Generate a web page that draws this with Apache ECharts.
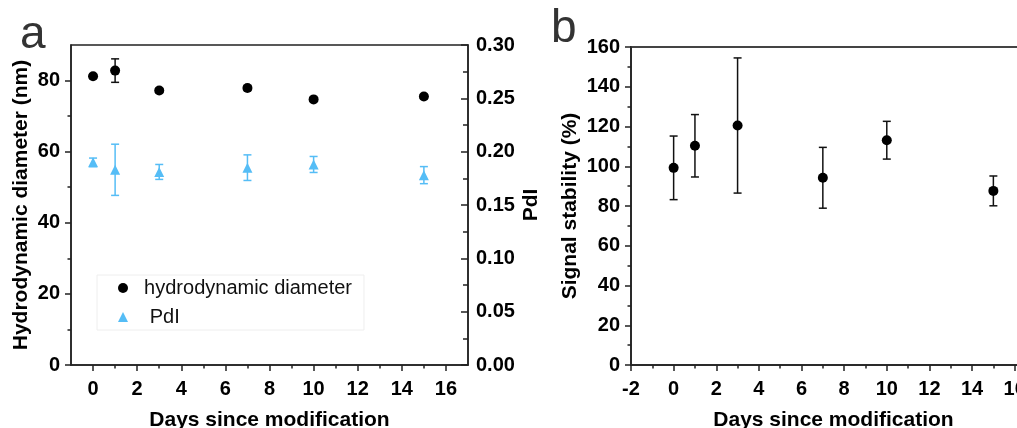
<!DOCTYPE html>
<html>
<head>
<meta charset="utf-8">
<script src="https://cdn.jsdelivr.net/npm/echarts@6/dist/echarts.min.js"></script>
<style>
  html, body { margin: 0; padding: 0; background: #fff; }
  #chart { width: 1017px; height: 428px; }
</style>
</head>
<body>
<div id="chart"></div>
<script>
// Sampling days (shared by both panels)
const days = [0, 1, 3, 7, 10, 15];

// Panel a: hydrodynamic diameter (nm) and polydispersity index
const diameter    = [81.2, 82.8, 77.2, 77.9, 74.7, 75.5];
const diameterErr = [0.6, 3.3, 0.6, 0.7, 0.5, 0.6];
const pdi         = [0.190, 0.183, 0.181, 0.185, 0.188, 0.178];
const pdiErr      = [0.004, 0.024, 0.007, 0.012, 0.0075, 0.008];

// Panel b: signal stability (%)
const signal    = [99.2, 110.3, 120.5, 94.2, 113.1, 87.6];
const signalErr = [16, 15.7, 34, 15.3, 9.5, 7.5];

// Tick labels
const xTicksA = [0, 2, 4, 6, 8, 10, 12, 14, 16];
const xTicksB = [-2, 0, 2, 4, 6, 8, 10, 12, 14, 16];
const yTicksDiameter = [0, 20, 40, 60, 80];
const yTicksPdi = [0, 0.05, 0.10, 0.15, 0.20, 0.25, 0.30];
const yTicksSignal = [0, 20, 40, 60, 80, 100, 120, 140, 160];

const FONT = 'Liberation Sans, Arial, sans-serif';
const AXIS_COLOR = '#222';
const BLUE = '#55bdf6';

const steps = (lo, hi, step) => {
  const out = [];
  for (let v = lo; v <= hi + 1e-9; v += step) out.push(+v.toFixed(4));
  return out;
};

const labelStyle = { color: '#000', fontFamily: FONT, fontWeight: 'bold', fontSize: 20 };
const nameStyle = { color: '#000', fontFamily: FONT, fontWeight: 'bold', fontSize: 21 };

function mainAxis(opts) {
  const { ticks, fmt, inside, margin, tickLen } = opts;
  return Object.assign({
    type: 'value',
    splitLine: { show: false },
    axisLine: { show: true, onZero: false, lineStyle: { color: AXIS_COLOR, width: 1.5 } },
    axisTick: { show: true, inside: !!inside, length: tickLen || 6, customValues: ticks,
                lineStyle: { color: AXIS_COLOR, width: 1.5 } },
    axisLabel: Object.assign({ customValues: ticks, margin: margin, formatter: fmt }, labelStyle),
    nameTextStyle: nameStyle
  }, opts.extra);
}

function minorAxis(opts) {
  const { ticks, inside } = opts;
  return Object.assign({
    type: 'value',
    splitLine: { show: false },
    axisLine: { show: false, onZero: false },
    axisLabel: { show: false },
    axisTick: { show: true, inside: !!inside, length: opts.tickLen || 3.5, customValues: ticks,
                lineStyle: { color: AXIS_COLOR, width: 1.5 } }
  }, opts.extra);
}

// Vertical error bar with caps
function errorBar(color) {
  return function (params, api) {
    const x = api.value(0), lo = api.value(1), hi = api.value(2);
    const top = api.coord([x, hi]);
    const bot = api.coord([x, lo]);
    const cw = 4;
    const st = { stroke: color, lineWidth: 1.5 };
    return {
      type: 'group',
      children: [
        { type: 'line', shape: { x1: top[0], y1: top[1], x2: bot[0], y2: bot[1] }, style: st },
        { type: 'line', shape: { x1: top[0] - cw, y1: top[1], x2: top[0] + cw, y2: top[1] }, style: st },
        { type: 'line', shape: { x1: bot[0] - cw, y1: bot[1], x2: bot[0] + cw, y2: bot[1] }, style: st }
      ]
    };
  };
}

const pts = (ys) => days.map((d, i) => [d, ys[i]]);
const bars = (ys, es) => days.map((d, i) => [d, ys[i] - es[i], ys[i] + es[i]]);

const chart = echarts.init(document.getElementById('chart'), null, { renderer: 'canvas' });

chart.setOption({
  backgroundColor: '#fff',
  animation: false,
  grid: [
    { left: 71, top: 45, width: 397, height: 320, show: true, borderColor: AXIS_COLOR, borderWidth: 1.5,
      containLabel: false, outerBoundsMode: 'none' },
    { left: 631, top: 47, right: -19, bottom: 63, show: true, borderColor: '#444', borderWidth: 2,
      containLabel: false, outerBoundsMode: 'none' }
  ],
  xAxis: [
    mainAxis({ ticks: xTicksA, margin: 14, fmt: v => String(v),
      extra: { gridIndex: 0, min: -1, max: 17, position: 'bottom', name: 'Days since modification',
               nameLocation: 'middle', nameGap: 45 } }),
    minorAxis({ ticks: steps(1, 15, 2), extra: { gridIndex: 0, min: -1, max: 17, position: 'bottom' } }),
    mainAxis({ ticks: xTicksB, margin: 14, fmt: v => String(v),
      extra: { gridIndex: 1, min: -2, max: 17, position: 'bottom', name: 'Days since modification',
               nameLocation: 'middle', nameGap: 45 } }),
    minorAxis({ ticks: steps(-1, 15, 2), extra: { gridIndex: 1, min: -2, max: 17, position: 'bottom' } })
  ],
  yAxis: [
    mainAxis({ ticks: yTicksDiameter, margin: 11, fmt: v => String(v),
      extra: { gridIndex: 0, min: 0, max: 90, position: 'left',
               name: 'Hydrodynamic diameter (nm)', nameLocation: 'middle', nameGap: 39 } }),
    minorAxis({ ticks: [10, 30, 50, 70], extra: { gridIndex: 0, min: 0, max: 90, position: 'left' } }),
    mainAxis({ ticks: yTicksPdi, margin: 8, inside: true, tickLen: 7, fmt: v => v.toFixed(2),
      extra: { gridIndex: 0, min: 0, max: 0.30, position: 'right',
               name: 'PdI', nameLocation: 'middle', nameGap: 53, nameRotate: 90 } }),
    minorAxis({ ticks: steps(0.025, 0.275, 0.05), inside: true, tickLen: 5,
      extra: { gridIndex: 0, min: 0, max: 0.30, position: 'right' } }),
    mainAxis({ ticks: yTicksSignal, margin: 11, fmt: v => String(v),
      extra: { gridIndex: 1, min: 0, max: 160, position: 'left',
               name: 'Signal stability (%)', nameLocation: 'middle', nameGap: 50 } }),
    minorAxis({ ticks: steps(10, 150, 20), extra: { gridIndex: 1, min: 0, max: 160, position: 'left' } })
  ],
  legend: {
    orient: 'vertical',
    left: 97,
    top: 275,
    padding: [3, 12, 3, 21],
    itemWidth: 10,
    itemHeight: 10,
    itemGap: 9,
    borderColor: '#eeeeee',
    borderWidth: 1,
    data: [
      { name: 'hydrodynamic diameter', icon: 'circle', itemStyle: { color: '#000' } },
      { name: 'PdI', icon: 'triangle', itemStyle: { color: BLUE } }
    ],
    formatter: name => (name === 'PdI' ? '   PdI' : '  ' + name),
    textStyle: { color: '#111', fontFamily: FONT, fontSize: 20 }
  },
  graphic: [
    { type: 'text', left: 20, top: 12,
      style: { text: 'a', font: '46px ' + FONT, fill: '#333' } },
    { type: 'text', left: 551, top: 6,
      style: { text: 'b', font: '46px ' + FONT, fill: '#333' } }
  ],
  series: [
    { type: 'custom', xAxisIndex: 0, yAxisIndex: 0, renderItem: errorBar('#111'),
      encode: { x: 0, y: [1, 2] }, data: bars(diameter, diameterErr), z: 2, silent: true },
    { name: 'hydrodynamic diameter', type: 'scatter', xAxisIndex: 0, yAxisIndex: 0,
      symbol: 'circle', symbolSize: 10, itemStyle: { color: '#000', opacity: 1 }, data: pts(diameter), z: 3 },
    { type: 'custom', xAxisIndex: 0, yAxisIndex: 2, renderItem: errorBar(BLUE),
      encode: { x: 0, y: [1, 2] }, data: bars(pdi, pdiErr), z: 2, silent: true },
    { name: 'PdI', type: 'scatter', xAxisIndex: 0, yAxisIndex: 2,
      symbol: 'triangle', symbolSize: 10, itemStyle: { color: BLUE, opacity: 1 }, data: pts(pdi), z: 3 },
    { type: 'custom', xAxisIndex: 2, yAxisIndex: 4, renderItem: errorBar('#111'),
      encode: { x: 0, y: [1, 2] }, data: bars(signal, signalErr), z: 2, silent: true },
    { name: 'signal', type: 'scatter', xAxisIndex: 2, yAxisIndex: 4,
      symbol: 'circle', symbolSize: 10, itemStyle: { color: '#000', opacity: 1 }, data: pts(signal), z: 3 }
  ]
});
</script>
</body>
</html>
